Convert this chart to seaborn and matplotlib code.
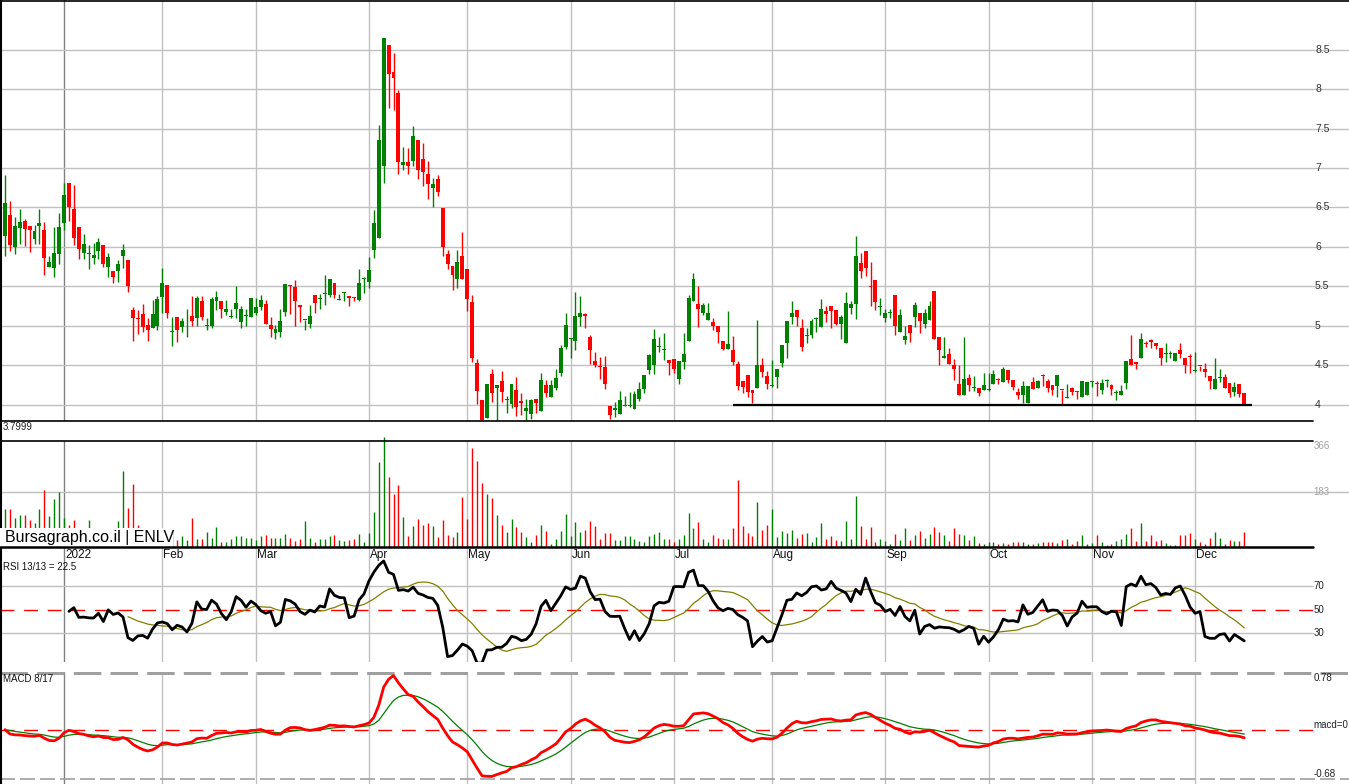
import numpy as np
import pandas as pd
import matplotlib
matplotlib.use("Agg")
import matplotlib.pyplot as plt
from matplotlib.lines import Line2D
from matplotlib.patches import Rectangle
import seaborn as sns

# ENLV daily candles, 15 Dec 2021 .. 15 Dec 2022
opens = [6.14, 6.405, 6.0, 6.245, 6.33, 6.27, 6.10, 6.27, 6.215, 5.75,
         5.74, 5.91, 6.31, 6.81, 6.48, 6.25, 5.93, 5.91, 5.865, 5.95,
         6.025, 5.75, 5.70, 5.70, 5.88, 5.835, 5.20, 5.10, 5.15, 5.01,
         4.98, 5.00, 5.37, 5.52, 4.92, 5.11, 4.99, 5.07, 5.127, 5.105,
         5.32, 5.0, 5.0, 5.31, 5.32, 5.18, 5.11, 5.21, 5.055, 5.13,
         5.11, 5.17, 5.24, 5.28, 5.01, 4.91, 4.93, 5.18, 5.52, 5.49,
         5.27, 5.075, 5.02, 5.39, 5.34, 5.41, 5.39, 5.54, 5.335, 5.42,
         5.38, 5.37, 5.33, 5.60, 5.56, 5.96, 6.12, 7.02, 8.56, 8.21,
         7.95, 7.04, 7.075, 7.09, 7.35, 7.12, 6.92, 6.75, 6.86, 6.49,
         5.91, 5.76, 5.59, 5.886, 5.72, 5.30, 4.53, 4.06, 3.83, 4.39,
         4.21, 4.30, 4.06, 4.01, 4.19, 4.05, 3.92, 3.89, 4.08, 3.92,
         4.25, 4.10, 4.21, 4.41, 4.73, 4.84, 4.81, 5.11, 5.15, 4.865,
         4.56, 4.49, 4.485, 3.99, 3.93, 3.88, 3.985, 3.985, 3.95, 4.08,
         4.20, 4.44, 4.51, 4.735, 4.70, 4.57, 4.58, 4.325, 4.55, 4.81,
         5.32, 5.28, 5.16, 5.08, 5.046, 5.0, 4.81, 4.71, 4.70, 4.52,
         4.30, 4.38, 4.19, 4.22, 4.51, 4.37, 4.245, 4.35, 4.53, 4.78,
         5.12, 5.20, 4.98, 4.87, 4.88, 5.085, 4.99, 5.19, 5.25, 5.20,
         5.02, 4.78, 5.23, 5.28, 5.80, 5.95, 5.50, 5.58, 5.245, 5.105,
         5.165, 5.39, 4.93, 4.82, 5.01, 5.12, 5.16, 5.02, 5.076, 5.44,
         4.865, 4.59, 4.645, 4.51, 4.27, 4.12, 4.34, 4.21, 4.22, 4.19,
         4.185, 4.26, 4.32, 4.29, 4.44, 4.32, 4.16, 4.12, 4.03, 4.29,
         4.22, 4.375, 4.30, 4.25, 4.245, 4.19, 4.09, 4.21, 4.17, 4.105,
         4.12, 4.295, 4.265, 4.19, 4.30, 4.255, 4.155, 4.12, 4.28, 4.58,
         4.54, 4.60, 4.78, 4.82, 4.79, 4.72, 4.645, 4.645, 4.56, 4.70,
         4.60, 4.615, 4.43, 4.495, 4.455, 4.37, 4.20, 4.345, 4.35, 4.28,
         4.17, 4.265, 4.155]
highs = [6.91, 6.58, 6.38, 6.48, 6.35, 6.27, 6.28, 6.48, 6.32, 5.89,
         6.25, 6.43, 6.81, 6.81, 6.78, 6.25, 6.17, 6.03, 6.05, 6.12,
         6.025, 5.92, 5.70, 5.835, 6.04, 5.835, 5.245, 5.20, 5.28, 5.10,
         5.33, 5.38, 5.73, 5.52, 5.12, 5.11, 5.10, 5.21, 5.38, 5.38,
         5.38, 5.10, 5.37, 5.44, 5.32, 5.33, 5.21, 5.51, 5.25, 5.22,
         5.35, 5.35, 5.39, 5.33, 5.11, 5.01, 5.22, 5.53, 5.52, 5.58,
         5.27, 5.08, 5.27, 5.39, 5.41, 5.645, 5.59, 5.54, 5.41, 5.425,
         5.38, 5.37, 5.72, 5.62, 5.87, 6.47, 7.54, 8.64, 8.56, 8.45,
         7.99, 7.26, 7.25, 7.53, 7.35, 7.32, 7.09, 6.87, 6.91, 6.49,
         5.96, 5.76, 5.96, 6.19, 5.72, 5.39, 4.58, 4.06, 4.27, 4.45,
         4.25, 4.43, 4.11, 4.27, 4.36, 4.15, 4.08, 4.08, 4.08, 4.40,
         4.32, 4.32, 4.45, 4.76, 5.17, 4.85, 5.43, 5.38, 5.17, 4.89,
         4.67, 4.61, 4.62, 3.99, 4.04, 4.18, 4.11, 4.17, 4.18, 4.29,
         4.38, 4.65, 4.96, 4.865, 4.91, 4.57, 4.58, 4.56, 4.91, 5.39,
         5.675, 5.51, 5.29, 5.29, 5.10, 5.0, 4.81, 5.19, 4.87, 4.56,
         4.30, 4.38, 4.19, 5.08, 4.59, 4.43, 4.57, 4.46, 4.76, 5.06,
         5.32, 5.20, 5.09, 4.97, 5.09, 5.11, 5.34, 5.25, 5.25, 5.20,
         5.14, 5.43, 5.32, 6.14, 5.93, 5.95, 5.81, 5.58, 5.35, 5.22,
         5.21, 5.39, 5.21, 5.0, 5.01, 5.30, 5.16, 5.22, 5.32, 5.44,
         4.865, 4.865, 4.72, 4.58, 4.50, 4.865, 4.39, 4.37, 4.22, 4.40,
         4.41, 4.44, 4.34, 4.485, 4.44, 4.32, 4.21, 4.30, 4.24, 4.36,
         4.32, 4.39, 4.33, 4.25, 4.38, 4.19, 4.27, 4.23, 4.18, 4.30,
         4.295, 4.30, 4.30, 4.325, 4.325, 4.265, 4.19, 4.255, 4.56, 4.89,
         4.54, 4.91, 4.81, 4.84, 4.79, 4.72, 4.78, 4.68, 4.655, 4.78,
         4.60, 4.64, 4.67, 4.495, 4.53, 4.37, 4.60, 4.46, 4.39, 4.28,
         4.287, 4.265, 4.155]
lows = [5.89, 5.95, 5.91, 6.04, 6.01, 5.94, 6.04, 6.04, 5.645, 5.75,
        5.62, 5.79, 6.22, 6.33, 6.02, 5.85, 5.85, 5.72, 5.785, 5.85,
        5.75, 5.62, 5.54, 5.56, 5.74, 5.43, 4.815, 4.90, 4.92, 4.81,
        4.97, 4.95, 5.16, 5.105, 4.75, 4.80, 4.93, 4.865, 5.0, 5.0,
        5.08, 4.95, 4.98, 5.20, 5.105, 5.14, 5.10, 5.10, 4.97, 5.0,
        5.11, 5.14, 5.20, 5.02, 4.86, 4.83, 4.865, 5.13, 5.15, 5.0,
        5.05, 4.95, 4.97, 5.17, 5.22, 5.27, 5.37, 5.35, 5.33, 5.32,
        5.25, 5.31, 5.32, 5.42, 5.485, 5.86, 6.11, 6.81, 7.755, 7.74,
        6.92, 6.98, 6.92, 7.02, 6.86, 6.77, 6.61, 6.50, 6.64, 5.89,
        5.72, 5.46, 5.485, 5.59, 5.19, 4.55, 4.01, 3.68, 3.83, 4.04,
        3.78, 4.04, 3.90, 3.96, 3.86, 3.87, 3.77, 3.82, 3.90, 3.92,
        4.10, 4.10, 4.19, 4.37, 4.705, 4.59, 4.70, 5.0, 4.97, 4.52,
        4.485, 4.325, 4.20, 3.82, 3.85, 3.88, 3.985, 3.97, 3.95, 4.05,
        4.15, 4.39, 4.39, 4.675, 4.57, 4.38, 4.40, 4.27, 4.46, 4.81,
        5.32, 4.99, 5.14, 5.08, 4.95, 4.79, 4.69, 4.71, 4.51, 4.19,
        4.155, 4.10, 4.02, 4.22, 4.35, 4.20, 4.23, 4.21, 4.485, 4.60,
        5.03, 5.0, 4.68, 4.79, 4.85, 4.92, 4.99, 5.05, 4.97, 5.01,
        4.83, 4.78, 5.15, 5.09, 5.61, 5.63, 5.25, 5.20, 5.14, 5.05,
        5.10, 4.89, 4.93, 4.77, 4.80, 4.99, 4.91, 4.97, 5.076, 4.83,
        4.50, 4.59, 4.52, 4.31, 4.12, 4.12, 4.18, 4.18, 4.11, 4.19,
        4.18, 4.26, 4.27, 4.29, 4.28, 4.19, 4.07, 4.02, 4.03, 4.20,
        4.22, 4.24, 4.17, 4.13, 4.10, 4.0, 4.085, 4.125, 4.075, 4.10,
        4.12, 4.23, 4.11, 4.14, 4.23, 4.126, 4.06, 4.12, 4.20, 4.50,
        4.455, 4.60, 4.74, 4.72, 4.705, 4.51, 4.54, 4.59, 4.56, 4.60,
        4.40, 4.41, 4.42, 4.43, 4.36, 4.20, 4.20, 4.295, 4.21, 4.105,
        4.11, 4.10, 4.0]
closes = [6.56, 6.025, 6.27, 6.32, 6.23, 6.22, 6.20, 6.31, 5.865, 5.81,
          5.92, 6.25, 6.66, 6.50, 6.12, 5.98, 6.04, 5.915, 5.895, 6.06,
          5.785, 5.87, 5.62, 5.79, 5.96, 5.50, 5.10, 5.09, 4.99, 4.95,
          5.15, 5.34, 5.54, 5.17, 4.925, 4.95, 5.06, 5.075, 5.063, 5.35,
          5.12, 5.005, 5.34, 5.37, 5.21, 5.22, 5.12, 5.29, 5.22, 5.135,
          5.35, 5.24, 5.33, 5.02, 4.96, 4.96, 5.06, 5.53, 5.50, 5.31,
          5.24, 5.08, 5.13, 5.29, 5.36, 5.415, 5.59, 5.39, 5.34, 5.425,
          5.35, 5.36, 5.54, 5.605, 5.71, 6.30, 7.35, 8.64, 8.19, 8.135,
          7.08, 7.075, 7.03, 7.40, 6.97, 6.95, 6.80, 6.80, 6.69, 6.0,
          5.79, 5.64, 5.81, 5.59, 5.34, 4.59, 4.18, 3.81, 4.27, 4.15,
          4.25, 4.16, 4.065, 4.27, 3.98, 4.03, 3.96, 4.06, 4.03, 4.32,
          4.15, 4.25, 4.34, 4.72, 5.01, 4.845, 5.13, 5.16, 5.13, 4.70,
          4.50, 4.485, 4.26, 3.87, 3.96, 4.06, 3.99, 3.99, 4.135, 4.20,
          4.38, 4.63, 4.84, 4.74, 4.705, 4.53, 4.46, 4.56, 4.645, 5.35,
          5.59, 5.21, 5.27, 5.17, 5.004, 4.92, 4.71, 4.77, 4.55, 4.245,
          4.23, 4.16, 4.15, 4.51, 4.42, 4.26, 4.25, 4.46, 4.76, 5.06,
          5.16, 5.12, 4.74, 4.875, 5.06, 5.09, 5.21, 5.15, 5.19, 5.02,
          5.11, 5.29, 5.28, 5.88, 5.70, 5.74, 5.495, 5.30, 5.25, 5.16,
          5.17, 5.0, 5.14, 4.87, 4.91, 5.27, 5.06, 5.16, 5.25, 4.83,
          4.70, 4.625, 4.52, 4.455, 4.12, 4.33, 4.25, 4.215, 4.15, 4.25,
          4.19, 4.39, 4.315, 4.46, 4.32, 4.23, 4.12, 4.245, 4.24, 4.20,
          4.30, 4.37, 4.22, 4.19, 4.38, 4.185, 4.095, 4.17, 4.165, 4.30,
          4.295, 4.30, 4.26, 4.275, 4.305, 4.20, 4.16, 4.18, 4.56, 4.50,
          4.52, 4.84, 4.775, 4.80, 4.75, 4.59, 4.65, 4.65, 4.655, 4.64,
          4.50, 4.61, 4.435, 4.49, 4.42, 4.30, 4.325, 4.35, 4.21, 4.156,
          4.23, 4.14, 4.0]
volumes = [125, 125, 98, 105, 108, 91, 81, 128, 191, 102,
           159, 184, 98, 72, 91, 45, 40, 89, 50, 40,
           35, 45, 40, 85, 252, 130, 208, 72, 40, 35,
           45, 40, 50, 40, 61, 24, 35, 22, 98, 28,
           25, 50, 31, 65, 15, 15, 25, 35, 35, 31,
           31, 22, 35, 39, 31, 31, 31, 44, 30, 20,
           25, 85, 30, 15, 25, 25, 35, 39, 22, 20,
           22, 28, 42, 15, 47, 117, 283, 366, 232, 175,
           205, 99, 35, 69, 94, 72, 80, 69, 33, 89,
           39, 33, 50, 166, 94, 329, 285, 213, 175, 163,
           105, 72, 50, 92, 67, 50, 33, 17, 39, 72,
           53, 11, 28, 52, 111, 35, 82, 50, 55, 85,
           70, 28, 47, 47, 22, 22, 35, 35, 25, 19,
           15, 35, 42, 49, 26, 26, 17, 26, 39, 112,
           62, 82, 26, 16, 39, 29, 26, 26, 62, 222,
           69, 45, 35, 149, 55, 72, 125, 32, 52, 45,
           55, 29, 42, 45, 16, 32, 79, 26, 35, 22,
           19, 85, 26, 169, 69, 26, 65, 16, 26, 19,
           9, 42, 22, 62, 22, 39, 52, 29, 42, 65,
           49, 39, 19, 62, 42, 39, 22, 35, 12, 9,
           16, 16, 9, 12, 9, 16, 16, 16, 9, 9,
           12, 16, 16, 16, 12, 22, 26, 9, 19, 39,
           9, 12, 39, 16, 6, 9, 19, 26, 42, 62,
           19, 79, 19, 39, 19, 22, 12, 6, 6, 39,
           39, 45, 26, 16, 9, 29, 49, 29, 9, 22,
           19, 19, 49]

nyse_holidays = ["2021-12-24", "2022-01-17", "2022-02-21", "2022-04-15",
                 "2022-05-30", "2022-06-20", "2022-07-04", "2022-09-05",
                 "2022-11-24"]
month_labels = ["2022", "Feb", "Mar", "Apr", "May", "Jun",
                "Jul", "Aug", "Sep", "Oct", "Nov", "Dec"]
price_levels = [4, 4.5, 5, 5.5, 6, 6.5, 7, 7.5, 8, 8.5]
price_labels = ["4", "4.5", "5", "5.5", "6", "6.5", "7", "7.5", "8", "8.5"]
support_level = 4.0
rsi_levels = [70, 50, 30]
macd_top, macd_bottom = 0.78, -0.68

GREEN, RED, OLIVE = "#008000", "#ff0000", "#808000"
GRID = "#c0c0c0"

dates = pd.bdate_range("2021-12-15", "2022-12-15", freq="C", holidays=nyse_holidays)
df = pd.DataFrame({"date": dates, "open": opens, "high": highs,
                   "low": lows, "close": closes, "volume": volumes})
df["x"] = np.arange(len(df))
df["color"] = np.where(df["close"] >= df["open"], GREEN, RED)

# RSI 13 (simple averages of gains / losses) + 13 day average of it
delta = df["close"].diff()
gain = delta.clip(lower=0).rolling(13).mean()
loss = (-delta.clip(upper=0)).rolling(13).mean()
df["rsi"] = 100 * gain / (gain + loss)
df["rsi_ma"] = df["rsi"].rolling(13).mean()

# MACD 8/17 with 9 day signal
ema_fast = df["close"].ewm(span=8, adjust=False).mean()
ema_slow = df["close"].ewm(span=17, adjust=False).mean()
df["macd"] = ema_fast - ema_slow
df["signal"] = df["macd"].ewm(span=9, adjust=False).mean()

new_month = df["date"].dt.month != df["date"].dt.month.shift()
month_starts = df.index[new_month].tolist()[1:]

sns.set_style("white")
plt.rcParams["font.family"] = ["Liberation Sans", "DejaVu Sans"]

W, H = 1349, 784
fig = plt.figure(figsize=(W / 100, H / 100), dpi=100)
XLIM = (-1.02, 273.3)
LAB_X = 1315 / W
LINE_END = 1313 / W


def panel(top, bottom):
    ax = fig.add_axes([0, 1 - bottom / H, 1, (bottom - top) / H])
    ax.set_axis_off()
    for i, lab in zip(month_starts, month_labels):
        ax.axvline(i, color="#808080" if lab == "2022" else GRID, lw=1, zorder=0)
    return ax


# price panel
ax_p = panel(0, 421)
for p, lab in zip(price_levels, price_labels):
    ax_p.axhline(p, color=GRID, lw=1, zorder=0)
    ax_p.text(LAB_X, p, lab, transform=ax_p.get_yaxis_transform(),
              va="center", ha="left", fontsize=7.5, color="#333333")
ax_p.vlines(df["x"], df["low"], df["high"], colors=df["color"], lw=1.0, zorder=2)
body = (df["close"] - df["open"]).abs().clip(lower=0.012)
ax_p.bar(df["x"], body, bottom=np.minimum(df["open"], df["close"]),
         width=0.8, color=df["color"], lw=0, zorder=3)
ax_p.hlines(support_level, 148, 253.6, color="black", lw=1.6, zorder=4)
ax_p.plot([0, LINE_END], [0, 0], transform=ax_p.transAxes, color="black", lw=1.2, clip_on=False)
ax_p.set_xlim(*XLIM)
ax_p.set_ylim(3.797, 9.127)

# volume panel
ax_v = panel(441, 547)
ax_v.axhline(183, color=GRID, lw=1, zorder=0)
ax_v.vlines(df["x"], 0, df["volume"], colors=df["color"], lw=1.0, zorder=2, clip_on=False)
ax_v.plot([0, LINE_END], [1, 1], transform=ax_v.transAxes, color="black", lw=1.2, clip_on=False)
ax_v.text(LAB_X - 0.001, 1, "366", transform=ax_v.transAxes, va="top", ha="left",
          fontsize=7, color="#a0a0a0")
ax_v.text(LAB_X - 0.001, 183, "183", transform=ax_v.get_yaxis_transform(), va="center",
          ha="left", fontsize=7, color="#a0a0a0")
ax_v.set_xlim(*XLIM)
ax_v.set_ylim(0, 352.7)

fig.add_artist(Rectangle((0, 1 - 547 / H), 173 / W, 19 / H, transform=fig.transFigure,
                         facecolor="white", edgecolor="none", zorder=5))
fig.text(5 / W, 1 - 537.5 / H, "Bursagraph.co.il | ENLV", fontsize=11.5,
         va="center", ha="left", color="black", zorder=6)
fig.add_artist(Line2D([0, LINE_END], [1 - 547 / H] * 2, transform=fig.transFigure,
                      color="black", lw=1.8, zorder=7))
fig.text(3 / W, 1 - 427.5 / H, "3.7999", fontsize=7, va="center", ha="left", color="#222222")

# RSI panel
ax_r = panel(547, 662)
for lvl in rsi_levels:
    if lvl == 50:
        ax_r.axhline(lvl, xmax=LINE_END, color=RED, lw=1, ls=(0, (10, 7)), zorder=1)
    else:
        ax_r.axhline(lvl, xmax=LINE_END, color=GRID, lw=1, zorder=0)
    ax_r.text(LAB_X - 0.001, lvl, str(lvl), transform=ax_r.get_yaxis_transform(),
              va="center", ha="left", fontsize=7, color="#222222")
sns.lineplot(data=df, x="x", y="rsi_ma", ax=ax_r, color=OLIVE, lw=0.9, estimator=None, legend=False)
sns.lineplot(data=df, x="x", y="rsi", ax=ax_r, color="black", lw=2, estimator=None, legend=False)
for i, lab in zip(month_starts, month_labels):
    ax_r.text(i + 0.2, 0.93, lab, transform=ax_r.get_xaxis_transform(),
              va="center", ha="left", fontsize=8.5, color="#111111")
ax_r.text(3 / W, 0.83, "RSI 13/13 = 22.5", transform=ax_r.transAxes,
          va="center", ha="left", fontsize=7, color="#111111")
ax_r.set_axis_off()
ax_r.set_xlim(*XLIM)
ax_r.set_ylim(5.74, 103.6)

# MACD panel
ax_m = panel(672, 784)
ax_m.axhline(macd_top, color="#a0a0a0", lw=2.2, ls=(0, (9, 3)), zorder=0)
ax_m.axhline(macd_bottom, color="#a0a0a0", lw=1.2, ls=(0, (9, 3)), zorder=0)
ax_m.axhline(0, xmax=LINE_END, color=RED, lw=1, ls=(0, (10, 7)), zorder=1)
sns.lineplot(data=df, x="x", y="signal", ax=ax_m, color=GREEN, lw=0.9, estimator=None, legend=False)
sns.lineplot(data=df, x="x", y="macd", ax=ax_m, color=RED, lw=2, estimator=None, legend=False)
ytr = ax_m.get_yaxis_transform()
ax_m.text(LAB_X - 0.001, macd_top, f"{macd_top:.2f}", transform=ytr, va="top", ha="left",
          fontsize=7, color="#222222")
ax_m.text(LAB_X - 0.001, 0, "macd=0", transform=ytr, va="bottom", ha="left",
          fontsize=7, color="#222222")
ax_m.text(LAB_X - 0.001, macd_bottom, f"{macd_bottom:.2f}", transform=ytr, va="bottom",
          ha="left", fontsize=7, color="#222222")
ax_m.text(3 / W, 0.94, "MACD 8/17", transform=ax_m.transAxes,
          va="center", ha="left", fontsize=7, color="#111111")
ax_m.set_axis_off()
ax_m.set_xlim(*XLIM)
ax_m.set_ylim(-0.749, 0.794)

# outer frame: left and top edges
fig.add_artist(Line2D([0.5 / W] * 2, [0, 1], transform=fig.transFigure, color="black", lw=1.5))
fig.add_artist(Line2D([0, 1], [1 - 0.5 / H] * 2, transform=fig.transFigure, color="black", lw=1.2))

fig.savefig("out.png", dpi=100)
